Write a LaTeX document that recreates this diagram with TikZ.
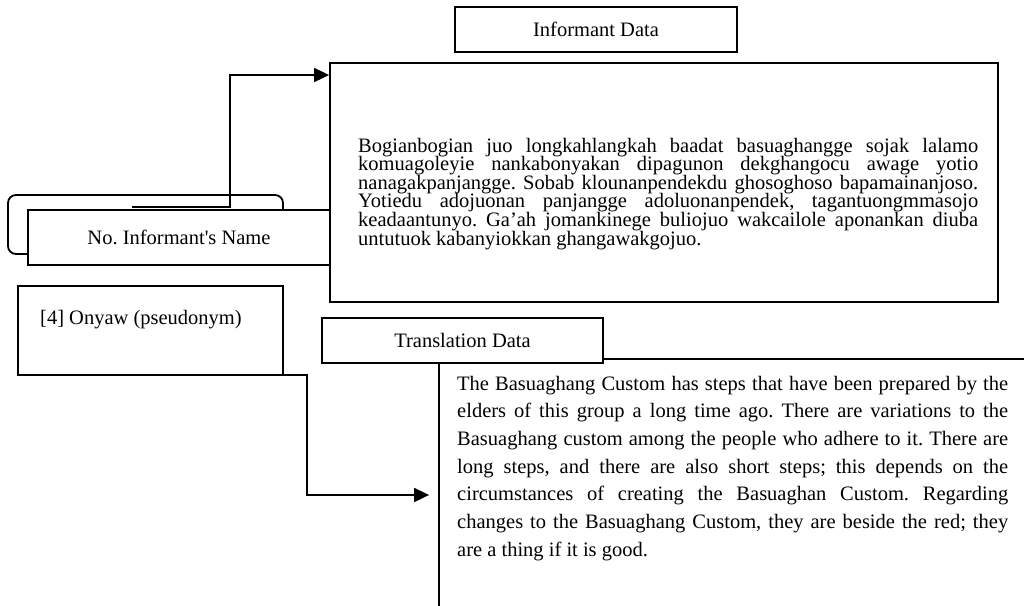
\documentclass[tikz,border=0pt]{standalone}
\usepackage{fontspec}
\setmainfont{Liberation Serif}
\usetikzlibrary{arrows.meta}

% type sizes: one pt of the picture is one pixel of the page
\newcommand\txtsize{\fontsize{20.5}{24}\selectfont\frenchspacing}
\newcommand\infosize{\fontsize{20.5}{18.6}\selectfont\frenchspacing\lineskiplimit=-40pt}
\newcommand\transsize{\fontsize{20.5}{27.7}\selectfont\frenchspacing\lineskiplimit=-40pt}
% one justified line
\newcommand\jline[1]{\makebox[\linewidth][s]{#1}}

\tikzset{
  frame/.style={draw, line width=1.8pt, fill=white, inner sep=0pt, font=\txtsize},
  bracketbox/.style={draw, line width=1.8pt, rounded corners=8pt, inner sep=0pt},
  conn/.style={line width=1.8pt, -{Triangle[length=15pt,width=14pt]}},
  textblock/.style={anchor=base west, inner sep=0pt, font=\txtsize},
}

\begin{document}
\begin{tikzpicture}[x=1pt, y=-1pt]
\useasboundingbox (0,0) rectangle (1024,605);
\clip (0,0) rectangle (1024,605);

% heading of the upper block
\node[frame, minimum width=282pt, minimum height=45pt] (infoTitle) at (596,29.5) {Informant Data};

% rounded bracket behind the name field
\node[bracketbox, minimum width=275pt, minimum height=59pt] (bracket) at (145.5,224.5) {};
\node[frame, minimum width=302pt, minimum height=55pt] (nameBox) at (179,237.5) {No. Informant\textquotesingle s Name};

% informant text block
\node[frame, minimum width=668pt, minimum height=239pt] (infoBox) at (664,182.5) {};
\node[textblock] (infoText) at (358,152) {\parbox[t]{620pt}{\infosize
\jline{Bogianbogian juo longkahlangkah baadat basuaghangge sojak lalamo}\\
\jline{komuagoleyie nankabonyakan dipagunon dekghangocu awage yotio}\\
\jline{nanagakpanjangge. Sobab klounanpendekdu ghosoghoso bapamainanjoso.}\\
\jline{Yotiedu adojuonan panjangge adoluonanpendek, tagantuongmmasojo}\\
\jline{keadaantunyo. Ga’ah jomankinege buliojuo wakcailole aponankan diuba}\\
untutuok kabanyiokkan ghangawakgojuo.}};

% connector from the name field to the informant text
\coordinate (a1s) at (132,207);
\coordinate (a1k) at (230,75);
\draw[conn] (a1s) -| (a1k) -- (a1k -| infoBox.west);

% translation block, running off the page
\node[draw, line width=1.8pt, inner sep=0pt, minimum width=592pt, minimum height=248pt] (transBox) at (735,483) {};
\node[frame, minimum width=281pt, minimum height=45pt] (transTitle) at (462.5,340.5) {Translation Data};
\node[textblock] (transText) at (457,390) {\parbox[t]{551pt}{\transsize
\jline{The Basuaghang Custom has steps that have been prepared by the}\\
\jline{elders of this group a long time ago. There are variations to the}\\
\jline{Basuaghang custom among the people who adhere to it. There are}\\
\jline{long steps, and there are also short steps; this depends on the}\\
\jline{circumstances of creating the Basuaghan Custom. Regarding}\\
\jline{changes to the Basuaghang Custom, they are beside the red; they}\\
are a thing if it is good.}};

% informant entry
\node[frame, minimum width=265pt, minimum height=89pt] (pseudoBox) at (150.5,330.5) {};
\node[textblock] (pseudoText) at (40,324) {[4] Onyaw (pseudonym)};

% connector from the entry to the translation
\coordinate (a2s) at (183,375);
\coordinate (a2k) at (307,495);
\draw[conn, shorten >=9pt] (a2s) -| (a2k) -- (a2k -| transBox.west);
\end{tikzpicture}
\end{document}
